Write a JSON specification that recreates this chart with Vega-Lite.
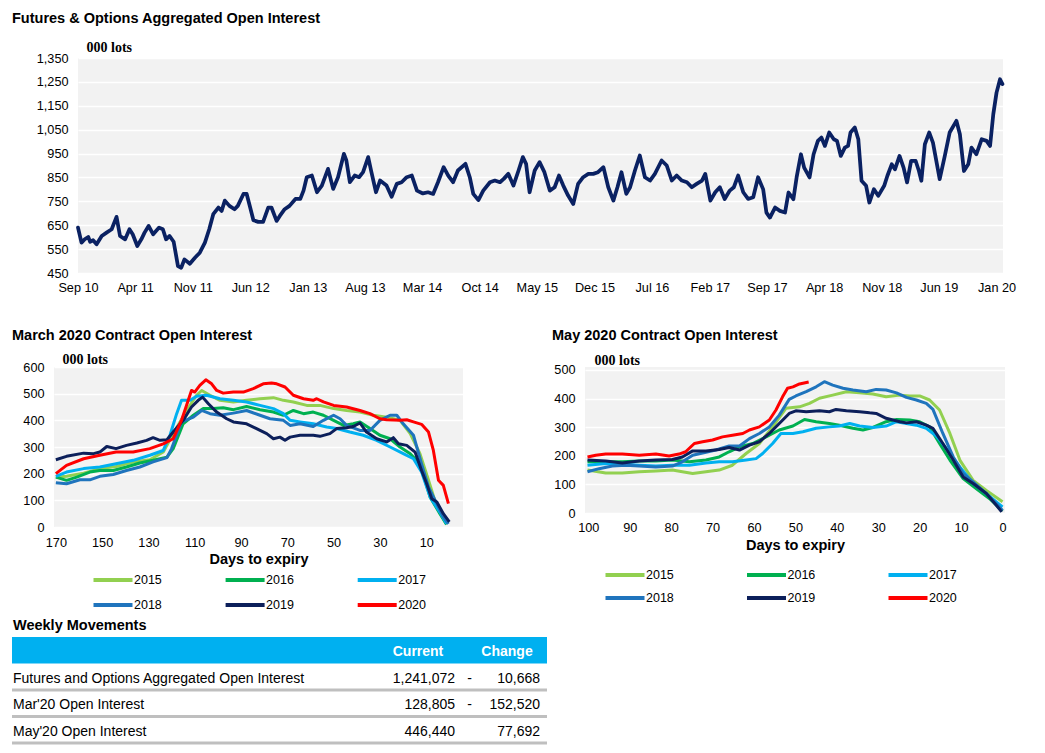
{
  "$schema": "https://vega.github.io/schema/vega-lite/v6.json",
  "background": "white",
  "padding": {"left": 10, "top": 10, "right": 5, "bottom": 2},
  "config": {
    "font": "Liberation Sans",
    "view": {"stroke": null},
    "axis": {"labelFont": "Liberation Sans", "labelFontSize": 12.7, "labelColor": "#000000", "ticks": false, "domain": false, "gridColor": "#ffffff", "gridWidth": 1.5, "gridOpacity": 1, "titleColor": "#000000"},
    "title": {"font": "Liberation Sans", "fontSize": 14.5, "fontWeight": "bold", "anchor": "start", "frame": "group", "color": "#000000", "baseline": "bottom"},
    "legend": {"labelFont": "Liberation Sans", "labelFontSize": 12.5, "labelColor": "#000000", "symbolType": "M-3.9,0H3.9", "symbolSize": 100, "symbolStrokeWidth": 4, "labelOffset": 14, "padding": 0, "direction": "horizontal"}
  },
  "datasets": {
    "top": [
      {"d":"2010/09/01","v":640},{"d":"2010/09/14","v":577},{"d":"2010/09/26","v":591},{"d":"2010/10/09","v":601},{"d":"2010/10/16","v":581},{"d":"2010/10/27","v":587},{"d":"2010/11/09","v":570},{"d":"2010/11/28","v":605},{"d":"2010/12/16","v":619},{"d":"2011/01/04","v":633},{"d":"2011/01/22","v":685},{"d":"2011/02/04","v":605},{"d":"2011/02/23","v":591},{"d":"2011/03/11","v":633},{"d":"2011/03/23","v":612},{"d":"2011/04/09","v":563},{"d":"2011/04/24","v":591},{"d":"2011/05/06","v":619},{"d":"2011/05/21","v":647},{"d":"2011/06/07","v":612},{"d":"2011/06/29","v":640},{"d":"2011/07/13","v":633},{"d":"2011/07/25","v":591},{"d":"2011/08/07","v":605},{"d":"2011/08/22","v":581},{"d":"2011/09/07","v":479},{"d":"2011/09/19","v":472},{"d":"2011/10/01","v":507},{"d":"2011/10/21","v":489},{"d":"2011/11/09","v":514},{"d":"2011/11/27","v":535},{"d":"2011/12/16","v":577},
      {"d":"2012/01/01","v":633},{"d":"2012/01/16","v":696},{"d":"2012/02/04","v":724},{"d":"2012/02/16","v":710},{"d":"2012/02/28","v":753},{"d":"2012/03/16","v":731},{"d":"2012/04/04","v":717},{"d":"2012/04/16","v":731},{"d":"2012/05/07","v":781},{"d":"2012/05/19","v":781},{"d":"2012/06/01","v":724},{"d":"2012/06/13","v":671},{"d":"2012/07/01","v":664},{"d":"2012/07/19","v":664},{"d":"2012/08/07","v":724},{"d":"2012/08/19","v":724},{"d":"2012/09/07","v":668},{"d":"2012/09/19","v":689},{"d":"2012/10/07","v":717},{"d":"2012/10/25","v":731},{"d":"2012/11/16","v":760},{"d":"2012/12/04","v":760},{"d":"2012/12/16","v":795},{"d":"2012/12/28","v":851},
      {"d":"2013/01/16","v":858},{"d":"2013/02/04","v":788},{"d":"2013/02/22","v":816},{"d":"2013/03/17","v":886},{"d":"2013/04/05","v":802},{"d":"2013/04/23","v":851},{"d":"2013/05/15","v":949},{"d":"2013/05/24","v":921},{"d":"2013/06/06","v":830},{"d":"2013/06/24","v":858},{"d":"2013/07/10","v":851},{"d":"2013/07/25","v":872},{"d":"2013/08/13","v":935},{"d":"2013/08/25","v":872},{"d":"2013/09/11","v":788},{"d":"2013/09/26","v":837},{"d":"2013/10/20","v":816},{"d":"2013/11/08","v":769},{"d":"2013/11/27","v":823},{"d":"2013/12/15","v":830},
      {"d":"2014/01/03","v":851},{"d":"2014/01/22","v":858},{"d":"2014/02/10","v":795},{"d":"2014/03/04","v":783},{"d":"2014/03/23","v":788},{"d":"2014/04/11","v":781},{"d":"2014/04/29","v":830},{"d":"2014/05/20","v":893},{"d":"2014/06/06","v":858},{"d":"2014/06/24","v":830},{"d":"2014/07/12","v":879},{"d":"2014/08/09","v":907},{"d":"2014/08/25","v":851},{"d":"2014/09/07","v":781},{"d":"2014/09/26","v":755},{"d":"2014/10/14","v":795},{"d":"2014/11/08","v":830},{"d":"2014/11/26","v":837},{"d":"2014/12/15","v":830},{"d":"2014/12/29","v":844},
      {"d":"2015/01/15","v":865},{"d":"2015/02/03","v":816},{"d":"2015/02/22","v":879},{"d":"2015/03/10","v":935},{"d":"2015/03/22","v":907},{"d":"2015/04/04","v":788},{"d":"2015/04/23","v":879},{"d":"2015/05/11","v":914},{"d":"2015/05/29","v":872},{"d":"2015/06/18","v":795},{"d":"2015/07/06","v":809},{"d":"2015/07/22","v":858},{"d":"2015/08/07","v":816},{"d":"2015/08/25","v":774},{"d":"2015/09/13","v":739},{"d":"2015/10/01","v":823},{"d":"2015/10/20","v":851},{"d":"2015/11/08","v":865},{"d":"2015/11/26","v":865},{"d":"2015/12/14","v":872},
      {"d":"2016/01/03","v":893},{"d":"2016/01/21","v":809},{"d":"2016/02/09","v":753},{"d":"2016/02/24","v":809},{"d":"2016/03/10","v":872},{"d":"2016/03/28","v":781},{"d":"2016/04/11","v":809},{"d":"2016/04/29","v":879},{"d":"2016/05/17","v":942},{"d":"2016/06/05","v":851},{"d":"2016/06/24","v":837},{"d":"2016/07/12","v":865},{"d":"2016/08/06","v":921},{"d":"2016/08/25","v":900},{"d":"2016/09/13","v":837},{"d":"2016/10/01","v":858},{"d":"2016/10/20","v":837},{"d":"2016/11/08","v":830},{"d":"2016/11/26","v":809},{"d":"2016/12/14","v":823},
      {"d":"2017/01/03","v":837},{"d":"2017/01/15","v":865},{"d":"2017/02/03","v":753},{"d":"2017/02/21","v":788},{"d":"2017/03/10","v":809},{"d":"2017/03/28","v":760},{"d":"2017/04/16","v":795},{"d":"2017/05/01","v":809},{"d":"2017/05/17","v":858},{"d":"2017/06/05","v":788},{"d":"2017/06/23","v":760},{"d":"2017/07/12","v":767},{"d":"2017/07/30","v":851},{"d":"2017/08/18","v":800},{"d":"2017/08/30","v":703},{"d":"2017/09/12","v":682},{"d":"2017/10/01","v":724},{"d":"2017/10/19","v":710},{"d":"2017/11/07","v":703},{"d":"2017/11/20","v":787},{"d":"2017/12/08","v":759},{"d":"2017/12/20","v":850},
      {"d":"2018/01/05","v":947},{"d":"2018/01/17","v":891},{"d":"2018/02/06","v":850},{"d":"2018/02/21","v":947},{"d":"2018/03/09","v":1003},{"d":"2018/03/22","v":1017},{"d":"2018/04/04","v":982},{"d":"2018/04/20","v":1038},{"d":"2018/05/07","v":1010},{"d":"2018/05/19","v":1003},{"d":"2018/06/02","v":940},{"d":"2018/06/17","v":975},{"d":"2018/06/29","v":982},{"d":"2018/07/08","v":1038},{"d":"2018/07/24","v":1059},{"d":"2018/08/06","v":1010},{"d":"2018/08/18","v":836},{"d":"2018/09/04","v":815},{"d":"2018/09/16","v":745},{"d":"2018/10/03","v":801},{"d":"2018/10/19","v":773},{"d":"2018/11/10","v":815},{"d":"2018/11/22","v":857},{"d":"2018/12/08","v":905},{"d":"2018/12/20","v":884},
      {"d":"2019/01/06","v":940},{"d":"2019/01/21","v":891},{"d":"2019/02/03","v":829},{"d":"2019/02/18","v":919},{"d":"2019/03/07","v":919},{"d":"2019/03/19","v":877},{"d":"2019/03/28","v":836},{"d":"2019/04/10","v":989},{"d":"2019/04/26","v":1038},{"d":"2019/05/10","v":996},{"d":"2019/06/04","v":843},{"d":"2019/06/23","v":940},{"d":"2019/07/11","v":1038},{"d":"2019/08/05","v":1087},{"d":"2019/08/18","v":1031},{"d":"2019/09/02","v":877},{"d":"2019/09/18","v":905},{"d":"2019/09/30","v":975},{"d":"2019/10/18","v":947},{"d":"2019/11/07","v":1010},{"d":"2019/11/25","v":1003},{"d":"2019/12/08","v":982},{"d":"2019/12/20","v":1115},
      {"d":"2020/01/01","v":1205},{"d":"2020/01/14","v":1261},{"d":"2020/01/23","v":1241}
    ],
    "mar": [
      {"y":"2015","d":170,"v":187},{"y":"2015","d":165.4,"v":190},{"y":"2015","d":158,"v":202},{"y":"2015","d":151,"v":219},{"y":"2015","d":144,"v":227},{"y":"2015","d":136.6,"v":244},{"y":"2015","d":129.4,"v":252},{"y":"2015","d":123.6,"v":281},{"y":"2015","d":119.3,"v":350},{"y":"2015","d":113.5,"v":437},{"y":"2015","d":109.2,"v":494},{"y":"2015","d":107,"v":512},{"y":"2015","d":103.4,"v":494},{"y":"2015","d":99.1,"v":475},{"y":"2015","d":93.3,"v":469},{"y":"2015","d":87.6,"v":475},{"y":"2015","d":81.8,"v":481},{"y":"2015","d":76,"v":485},{"y":"2015","d":71.7,"v":475},{"y":"2015","d":67.4,"v":469},{"y":"2015","d":61.6,"v":456},{"y":"2015","d":55.9,"v":456},{"y":"2015","d":50,"v":444},{"y":"2015","d":44.4,"v":437},{"y":"2015","d":38.6,"v":431},{"y":"2015","d":32.8,"v":419},{"y":"2015","d":27.1,"v":412},{"y":"2015","d":21.3,"v":400},{"y":"2015","d":16.9,"v":350},{"y":"2015","d":12.7,"v":275},{"y":"2015","d":9,"v":175},{"y":"2015","d":5.4,"v":75},{"y":"2015","d":1.2,"v":10},
      {"y":"2016","d":170,"v":187},{"y":"2016","d":165.4,"v":175},{"y":"2016","d":161,"v":187},{"y":"2016","d":155.3,"v":206},{"y":"2016","d":151,"v":212},{"y":"2016","d":145.2,"v":212},{"y":"2016","d":139.5,"v":225},{"y":"2016","d":133.7,"v":240},{"y":"2016","d":128,"v":250},{"y":"2016","d":122,"v":262},{"y":"2016","d":119.3,"v":294},{"y":"2016","d":115,"v":387},{"y":"2016","d":110.6,"v":419},{"y":"2016","d":106.3,"v":444},{"y":"2016","d":102,"v":444},{"y":"2016","d":97.7,"v":447},{"y":"2016","d":93.3,"v":440},{"y":"2016","d":87.6,"v":452},{"y":"2016","d":81.8,"v":440},{"y":"2016","d":76,"v":431},{"y":"2016","d":71.7,"v":419},{"y":"2016","d":67.4,"v":437},{"y":"2016","d":63,"v":425},{"y":"2016","d":58.8,"v":431},{"y":"2016","d":54.4,"v":419},{"y":"2016","d":50,"v":400},{"y":"2016","d":45.7,"v":381},{"y":"2016","d":41.5,"v":387},{"y":"2016","d":38.6,"v":394},{"y":"2016","d":34.3,"v":369},{"y":"2016","d":30,"v":344},{"y":"2016","d":25.6,"v":331},{"y":"2016","d":21.3,"v":300},{"y":"2016","d":16.9,"v":275},{"y":"2016","d":12.7,"v":237},{"y":"2016","d":8.3,"v":112},{"y":"2016","d":4.1,"v":50},{"y":"2016","d":1.2,"v":10},
      {"y":"2017","d":170,"v":190},{"y":"2017","d":165.4,"v":206},{"y":"2017","d":158,"v":219},{"y":"2017","d":151,"v":225},{"y":"2017","d":144,"v":237},{"y":"2017","d":136.6,"v":250},{"y":"2017","d":129.4,"v":269},{"y":"2017","d":123.6,"v":287},{"y":"2017","d":120.7,"v":344},{"y":"2017","d":117.8,"v":425},{"y":"2017","d":115.7,"v":475},{"y":"2017","d":112,"v":475},{"y":"2017","d":109.2,"v":490},{"y":"2017","d":104.9,"v":494},{"y":"2017","d":99.1,"v":481},{"y":"2017","d":93.3,"v":475},{"y":"2017","d":87.6,"v":469},{"y":"2017","d":81.8,"v":456},{"y":"2017","d":76,"v":444},{"y":"2017","d":71.7,"v":425},{"y":"2017","d":68.8,"v":400},{"y":"2017","d":64.5,"v":394},{"y":"2017","d":58.8,"v":387},{"y":"2017","d":53,"v":375},{"y":"2017","d":48.7,"v":369},{"y":"2017","d":43,"v":356},{"y":"2017","d":37.2,"v":344},{"y":"2017","d":31.4,"v":325},{"y":"2017","d":25.6,"v":300},{"y":"2017","d":19.9,"v":275},{"y":"2017","d":15.5,"v":256},{"y":"2017","d":12,"v":206},{"y":"2017","d":8.3,"v":112},{"y":"2017","d":4.1,"v":56},{"y":"2017","d":1.2,"v":12},
      {"y":"2018","d":170,"v":166},{"y":"2018","d":165.4,"v":162},{"y":"2018","d":159.6,"v":177},{"y":"2018","d":155.3,"v":177},{"y":"2018","d":151,"v":190},{"y":"2018","d":145.2,"v":197},{"y":"2018","d":139.5,"v":212},{"y":"2018","d":133.7,"v":225},{"y":"2018","d":128,"v":244},{"y":"2018","d":122,"v":260},{"y":"2018","d":120,"v":294},{"y":"2018","d":115.7,"v":394},{"y":"2018","d":110.6,"v":412},{"y":"2018","d":107,"v":437},{"y":"2018","d":103.4,"v":425},{"y":"2018","d":99.1,"v":419},{"y":"2018","d":93.3,"v":427},{"y":"2018","d":87.6,"v":437},{"y":"2018","d":81.8,"v":419},{"y":"2018","d":77.5,"v":406},{"y":"2018","d":71.7,"v":400},{"y":"2018","d":68.8,"v":381},{"y":"2018","d":64.5,"v":387},{"y":"2018","d":58.8,"v":377},{"y":"2018","d":54.4,"v":400},{"y":"2018","d":50,"v":419},{"y":"2018","d":47.2,"v":406},{"y":"2018","d":44.4,"v":381},{"y":"2018","d":38.6,"v":362},{"y":"2018","d":34.3,"v":362},{"y":"2018","d":30,"v":400},{"y":"2018","d":25.6,"v":419},{"y":"2018","d":22.7,"v":419},{"y":"2018","d":19.9,"v":387},{"y":"2018","d":15.5,"v":344},{"y":"2018","d":12,"v":237},{"y":"2018","d":9,"v":150},{"y":"2018","d":5.4,"v":87},{"y":"2018","d":2.6,"v":37},{"y":"2018","d":0.4,"v":12},
      {"y":"2019","d":170,"v":252},{"y":"2019","d":165.4,"v":265},{"y":"2019","d":158,"v":277},{"y":"2019","d":153.7,"v":275},{"y":"2019","d":151,"v":281},{"y":"2019","d":148,"v":302},{"y":"2019","d":144,"v":294},{"y":"2019","d":139.5,"v":306},{"y":"2019","d":135,"v":315},{"y":"2019","d":130.8,"v":325},{"y":"2019","d":128,"v":335},{"y":"2019","d":125,"v":325},{"y":"2019","d":122,"v":327},{"y":"2019","d":119.3,"v":356},{"y":"2019","d":115,"v":400},{"y":"2019","d":111.4,"v":450},{"y":"2019","d":108.5,"v":475},{"y":"2019","d":106.6,"v":487},{"y":"2019","d":104.1,"v":462},{"y":"2019","d":100.5,"v":431},{"y":"2019","d":96.2,"v":406},{"y":"2019","d":93.3,"v":394},{"y":"2019","d":87.6,"v":387},{"y":"2019","d":83.3,"v":369},{"y":"2019","d":78.9,"v":350},{"y":"2019","d":76,"v":331},{"y":"2019","d":73.2,"v":337},{"y":"2019","d":71,"v":325},{"y":"2019","d":68.8,"v":337},{"y":"2019","d":64.5,"v":344},{"y":"2019","d":58.8,"v":344},{"y":"2019","d":55.9,"v":340},{"y":"2019","d":51.6,"v":350},{"y":"2019","d":48.7,"v":369},{"y":"2019","d":44.4,"v":372},{"y":"2019","d":41.5,"v":377},{"y":"2019","d":38.6,"v":390},{"y":"2019","d":35.8,"v":356},{"y":"2019","d":31.4,"v":331},{"y":"2019","d":27.1,"v":319},{"y":"2019","d":24.2,"v":335},{"y":"2019","d":22,"v":312},{"y":"2019","d":18.4,"v":306},{"y":"2019","d":14.8,"v":281},{"y":"2019","d":12,"v":212},{"y":"2019","d":9.8,"v":162},{"y":"2019","d":7.6,"v":106},{"y":"2019","d":5.4,"v":94},{"y":"2019","d":2.6,"v":50},{"y":"2019","d":0,"v":19},
      {"y":"2020","d":170,"v":200},{"y":"2020","d":165.4,"v":231},{"y":"2020","d":158,"v":256},{"y":"2020","d":151,"v":269},{"y":"2020","d":144,"v":281},{"y":"2020","d":136.6,"v":281},{"y":"2020","d":129.4,"v":294},{"y":"2020","d":123.6,"v":312},{"y":"2020","d":119.3,"v":331},{"y":"2020","d":115.7,"v":400},{"y":"2020","d":112.8,"v":475},{"y":"2020","d":111.4,"v":512},{"y":"2020","d":110,"v":506},{"y":"2020","d":107.8,"v":531},{"y":"2020","d":105.2,"v":552},{"y":"2020","d":102.7,"v":537},{"y":"2020","d":100.5,"v":512},{"y":"2020","d":97.7,"v":502},{"y":"2020","d":93.3,"v":506},{"y":"2020","d":89,"v":506},{"y":"2020","d":84.7,"v":519},{"y":"2020","d":80.4,"v":537},{"y":"2020","d":76.8,"v":540},{"y":"2020","d":74.6,"v":537},{"y":"2020","d":71,"v":525},{"y":"2020","d":67.4,"v":494},{"y":"2020","d":63,"v":481},{"y":"2020","d":58.8,"v":475},{"y":"2020","d":57.3,"v":481},{"y":"2020","d":54.4,"v":469},{"y":"2020","d":50,"v":456},{"y":"2020","d":44.4,"v":450},{"y":"2020","d":38.6,"v":437},{"y":"2020","d":34.3,"v":425},{"y":"2020","d":30,"v":406},{"y":"2020","d":27.1,"v":402},{"y":"2020","d":21.3,"v":400},{"y":"2020","d":18.4,"v":402},{"y":"2020","d":15.5,"v":394},{"y":"2020","d":12,"v":385},{"y":"2020","d":9,"v":356},{"y":"2020","d":6.9,"v":287},{"y":"2020","d":4.7,"v":175},{"y":"2020","d":2.6,"v":156},{"y":"2020","d":0.4,"v":88}
    ],
    "may": [
      {"y":"2015","d":100.2,"v":150},{"y":"2015","d":95.8,"v":140},{"y":"2015","d":91.8,"v":140},{"y":"2015","d":87.7,"v":144},{"y":"2015","d":83.7,"v":147},{"y":"2015","d":79.7,"v":150},{"y":"2015","d":77.3,"v":144},{"y":"2015","d":74.8,"v":138},{"y":"2015","d":71.6,"v":144},{"y":"2015","d":68.4,"v":150},{"y":"2015","d":65.2,"v":167},{"y":"2015","d":61.9,"v":208},{"y":"2015","d":58.7,"v":243},{"y":"2015","d":55.5,"v":301},{"y":"2015","d":52.3,"v":366},{"y":"2015","d":49,"v":371},{"y":"2015","d":46.6,"v":383},{"y":"2015","d":44.2,"v":401},{"y":"2015","d":41,"v":412},{"y":"2015","d":37.7,"v":424},{"y":"2015","d":34.5,"v":420},{"y":"2015","d":31.3,"v":416},{"y":"2015","d":28.1,"v":406},{"y":"2015","d":24.8,"v":412},{"y":"2015","d":22.4,"v":409},{"y":"2015","d":20,"v":409},{"y":"2015","d":17.6,"v":395},{"y":"2015","d":15.2,"v":360},{"y":"2015","d":12.7,"v":278},{"y":"2015","d":10.3,"v":185},{"y":"2015","d":7.1,"v":114},{"y":"2015","d":3.9,"v":79},{"y":"2015","d":0,"v":39},
      {"y":"2016","d":100.2,"v":179},{"y":"2016","d":95.8,"v":179},{"y":"2016","d":91.8,"v":179},{"y":"2016","d":87.7,"v":182},{"y":"2016","d":83.7,"v":182},{"y":"2016","d":79.7,"v":185},{"y":"2016","d":75.6,"v":179},{"y":"2016","d":71.6,"v":185},{"y":"2016","d":68.4,"v":196},{"y":"2016","d":66,"v":214},{"y":"2016","d":63.5,"v":231},{"y":"2016","d":60.3,"v":243},{"y":"2016","d":57.1,"v":266},{"y":"2016","d":53.9,"v":290},{"y":"2016","d":50.6,"v":304},{"y":"2016","d":47.8,"v":327},{"y":"2016","d":45,"v":319},{"y":"2016","d":41.8,"v":313},{"y":"2016","d":39.4,"v":307},{"y":"2016","d":36.1,"v":296},{"y":"2016","d":33.7,"v":290},{"y":"2016","d":31.3,"v":299},{"y":"2016","d":28.1,"v":319},{"y":"2016","d":25.6,"v":327},{"y":"2016","d":22.4,"v":325},{"y":"2016","d":20,"v":319},{"y":"2016","d":17.6,"v":301},{"y":"2016","d":15.2,"v":243},{"y":"2016","d":12.7,"v":185},{"y":"2016","d":9.5,"v":120},{"y":"2016","d":6.3,"v":85},{"y":"2016","d":3.1,"v":50},{"y":"2016","d":0,"v":7},
      {"y":"2017","d":100.2,"v":167},{"y":"2017","d":95.8,"v":173},{"y":"2017","d":91.8,"v":171},{"y":"2017","d":87.7,"v":167},{"y":"2017","d":83.7,"v":164},{"y":"2017","d":79.7,"v":167},{"y":"2017","d":75.6,"v":167},{"y":"2017","d":71.6,"v":175},{"y":"2017","d":68.4,"v":179},{"y":"2017","d":65.2,"v":179},{"y":"2017","d":61.9,"v":185},{"y":"2017","d":59.5,"v":190},{"y":"2017","d":57.9,"v":208},{"y":"2017","d":55.5,"v":243},{"y":"2017","d":53.5,"v":278},{"y":"2017","d":50.6,"v":278},{"y":"2017","d":48.2,"v":284},{"y":"2017","d":45,"v":296},{"y":"2017","d":41.8,"v":301},{"y":"2017","d":39.4,"v":304},{"y":"2017","d":36.9,"v":313},{"y":"2017","d":34.5,"v":304},{"y":"2017","d":31.3,"v":299},{"y":"2017","d":28.1,"v":304},{"y":"2017","d":25.6,"v":319},{"y":"2017","d":23.2,"v":313},{"y":"2017","d":20.8,"v":307},{"y":"2017","d":18.4,"v":296},{"y":"2017","d":16,"v":269},{"y":"2017","d":13.5,"v":225},{"y":"2017","d":10.3,"v":161},{"y":"2017","d":7.1,"v":103},{"y":"2017","d":3.9,"v":68},{"y":"2017","d":1.5,"v":39},{"y":"2017","d":0,"v":21},
      {"y":"2018","d":100.2,"v":144},{"y":"2018","d":97.4,"v":155},{"y":"2018","d":94.2,"v":164},{"y":"2018","d":91,"v":167},{"y":"2018","d":87.7,"v":164},{"y":"2018","d":83.7,"v":161},{"y":"2018","d":79.7,"v":164},{"y":"2018","d":77.3,"v":179},{"y":"2018","d":74.8,"v":202},{"y":"2018","d":72.4,"v":210},{"y":"2018","d":69.2,"v":220},{"y":"2018","d":66,"v":234},{"y":"2018","d":63.5,"v":234},{"y":"2018","d":61.1,"v":260},{"y":"2018","d":58.7,"v":278},{"y":"2018","d":56.3,"v":301},{"y":"2018","d":53.9,"v":342},{"y":"2018","d":51.5,"v":397},{"y":"2018","d":49.9,"v":409},{"y":"2018","d":47.4,"v":424},{"y":"2018","d":45,"v":441},{"y":"2018","d":43,"v":459},{"y":"2018","d":41,"v":447},{"y":"2018","d":38.5,"v":436},{"y":"2018","d":36.1,"v":430},{"y":"2018","d":32.9,"v":424},{"y":"2018","d":30.5,"v":432},{"y":"2018","d":28.1,"v":430},{"y":"2018","d":25.6,"v":420},{"y":"2018","d":23.2,"v":404},{"y":"2018","d":20.8,"v":395},{"y":"2018","d":18.4,"v":383},{"y":"2018","d":16.8,"v":362},{"y":"2018","d":14.4,"v":278},{"y":"2018","d":11.9,"v":196},{"y":"2018","d":9.5,"v":138},{"y":"2018","d":7.1,"v":109},{"y":"2018","d":3.9,"v":68},{"y":"2018","d":1.5,"v":33},{"y":"2018","d":0,"v":9},
      {"y":"2019","d":100.2,"v":185},{"y":"2019","d":95.8,"v":182},{"y":"2019","d":91.8,"v":175},{"y":"2019","d":87.7,"v":182},{"y":"2019","d":83.7,"v":185},{"y":"2019","d":79.7,"v":187},{"y":"2019","d":77.3,"v":196},{"y":"2019","d":74.8,"v":217},{"y":"2019","d":71.6,"v":217},{"y":"2019","d":68.4,"v":222},{"y":"2019","d":66,"v":229},{"y":"2019","d":63.5,"v":220},{"y":"2019","d":61.1,"v":237},{"y":"2019","d":58.7,"v":249},{"y":"2019","d":56.3,"v":278},{"y":"2019","d":53.9,"v":313},{"y":"2019","d":51.5,"v":348},{"y":"2019","d":49.9,"v":357},{"y":"2019","d":47.4,"v":354},{"y":"2019","d":44.2,"v":357},{"y":"2019","d":41.8,"v":354},{"y":"2019","d":40.2,"v":362},{"y":"2019","d":37.7,"v":357},{"y":"2019","d":34.5,"v":354},{"y":"2019","d":32.1,"v":350},{"y":"2019","d":30.5,"v":348},{"y":"2019","d":28.1,"v":331},{"y":"2019","d":24.8,"v":319},{"y":"2019","d":23.2,"v":315},{"y":"2019","d":20.8,"v":319},{"y":"2019","d":18.4,"v":307},{"y":"2019","d":16.8,"v":296},{"y":"2019","d":14.4,"v":243},{"y":"2019","d":11.9,"v":185},{"y":"2019","d":9.5,"v":126},{"y":"2019","d":7.1,"v":103},{"y":"2019","d":3.9,"v":68},{"y":"2019","d":1.5,"v":27},{"y":"2019","d":0.2,"v":4},
      {"y":"2020","d":100.2,"v":196},{"y":"2020","d":98.2,"v":202},{"y":"2020","d":95.8,"v":206},{"y":"2020","d":91.8,"v":206},{"y":"2020","d":87.7,"v":202},{"y":"2020","d":83.7,"v":206},{"y":"2020","d":80.5,"v":199},{"y":"2020","d":78.1,"v":206},{"y":"2020","d":76.5,"v":214},{"y":"2020","d":74.4,"v":243},{"y":"2020","d":72.4,"v":249},{"y":"2020","d":70,"v":255},{"y":"2020","d":67.6,"v":266},{"y":"2020","d":65.2,"v":272},{"y":"2020","d":62.7,"v":278},{"y":"2020","d":61.1,"v":290},{"y":"2020","d":58.7,"v":301},{"y":"2020","d":56.3,"v":325},{"y":"2020","d":54.7,"v":360},{"y":"2020","d":53.1,"v":406},{"y":"2020","d":51.9,"v":436},{"y":"2020","d":50.6,"v":441},{"y":"2020","d":49,"v":451},{"y":"2020","d":46.8,"v":458}
    ],
    "tbl": [
      {"row":"h","c":1,"t":"Current"},
      {"row":"h","c":4,"t":"Change"},
      {"row":"1","c":0,"t":"Futures and Options Aggregated Open Interest"},
      {"row":"1","c":2,"t":"1,241,072"},
      {"row":"1","c":3,"t":"-"},
      {"row":"1","c":5,"t":"10,668"},
      {"row":"2","c":0,"t":"Mar'20 Open Interest"},
      {"row":"2","c":2,"t":"128,805"},
      {"row":"2","c":3,"t":"-"},
      {"row":"2","c":5,"t":"152,520"},
      {"row":"3","c":0,"t":"May'20 Open Interest"},
      {"row":"3","c":2,"t":"446,440"},
      {"row":"3","c":5,"t":"77,692"}
    ]
  },
  "concat": [
    {
      "concat": [
        {
          "concat": [
            {"width": 66, "height": 1, "data": {"values": []}, "mark": "point", "encoding": {}},
            {
              "width": 925,
              "height": 215,
              "title": {"text": "Futures & Options Aggregated Open Interest", "dx": -66, "offset": 14},
              "view": {"fill": "#f2f2f2", "stroke": null},
              "data": {"name": "top"},
              "mark": {"type": "line", "color": "#0a2162", "strokeWidth": 3.75, "strokeJoin": "round", "strokeCap": "round"},
              "encoding": {
                "x": {
                  "field": "d", "type": "temporal",
                  "scale": {"domain": [{"year": 2010, "month": 9, "date": 1}, {"year": 2020, "month": 1, "date": 25}]},
                  "axis": {
                    "title": null, "grid": false, "format": "%b %y", "labelPadding": 8, "labelFlush": false, "labelOverlap": false,
                    "values": [
                      {"year": 2010, "month": 9, "date": 1}, {"year": 2011, "month": 4, "date": 1}, {"year": 2011, "month": 11, "date": 1},
                      {"year": 2012, "month": 6, "date": 1}, {"year": 2013, "month": 1, "date": 1}, {"year": 2013, "month": 8, "date": 1},
                      {"year": 2014, "month": 3, "date": 1}, {"year": 2014, "month": 10, "date": 1}, {"year": 2015, "month": 5, "date": 1},
                      {"year": 2015, "month": 12, "date": 1}, {"year": 2016, "month": 7, "date": 1}, {"year": 2017, "month": 2, "date": 1},
                      {"year": 2017, "month": 9, "date": 1}, {"year": 2018, "month": 4, "date": 1}, {"year": 2018, "month": 11, "date": 1},
                      {"year": 2019, "month": 6, "date": 1}, {"year": 2020, "month": 1, "date": 1}
                    ]
                  }
                },
                "y": {
                  "field": "v", "type": "quantitative",
                  "scale": {"domain": [450, 1350], "nice": false, "zero": false},
                  "axis": {
                    "values": [450, 550, 650, 750, 850, 950, 1050, 1150, 1250, 1350], "format": ",.0f", "labelPadding": 10, "grid": true,
                    "title": "000 lots", "titleAngle": 0, "titleAlign": "left", "titleBaseline": "alphabetic", "titleX": 8, "titleY": -7,
                    "titleFont": "Liberation Serif", "titleFontSize": 14, "titleFontWeight": "bold"
                  }
                }
              }
            }
          ],
          "spacing": 0,
          "bounds": "flush"
        },
        {
          "concat": [
            {"width": 42, "height": 1, "data": {"values": []}, "mark": "point", "encoding": {}},
            {
              "concat": [
                {
                  "width": 409,
                  "height": 160,
                  "title": {"text": "March 2020 Contract Open Interest", "dx": -42, "offset": 9},
                  "view": {"fill": "#f2f2f2", "stroke": null},
                  "data": {"name": "mar"},
                  "mark": {"type": "line", "strokeWidth": 3, "strokeJoin": "round"},
                  "encoding": {
                    "x": {
                      "field": "d", "type": "quantitative",
                      "scale": {"domain": [170.8, -5.9], "nice": false, "zero": false},
                      "axis": {"values": [170, 150, 130, 110, 90, 70, 50, 30, 10], "grid": false, "labelPadding": 9, "labelFlush": false,
                        "title": "Days to expiry", "titleFontSize": 14.5, "titleFontWeight": "bold", "titlePadding": 4}
                    },
                    "y": {
                      "field": "v", "type": "quantitative",
                      "scale": {"domain": [0, 600], "nice": false},
                      "axis": {"values": [0, 100, 200, 300, 400, 500, 600], "labelPadding": 10, "grid": true,
                        "title": "000 lots", "titleAngle": 0, "titleAlign": "left", "titleBaseline": "alphabetic", "titleX": 8, "titleY": -4,
                        "titleFont": "Liberation Serif", "titleFontSize": 14, "titleFontWeight": "bold"}
                    },
                    "color": {
                      "field": "y", "type": "nominal",
                      "scale": {"domain": ["2015", "2016", "2017", "2018", "2019", "2020"], "range": ["#92d050", "#00b050", "#00b0f0", "#1f74bd", "#0c1f5a", "#ff0000"]},
                      "legend": {"title": null, "orient": "none", "legendX": 52, "legendY": 206, "columns": 3, "columnPadding": 55.1, "rowPadding": 9}
                    }
                  }
                },
                {
                  "width": 420,
                  "height": 146,
                  "title": {"text": "May 2020 Contract Open Interest", "dx": -33, "offset": 10},
                  "view": {"fill": "#f2f2f2", "stroke": null},
                  "data": {"name": "may"},
                  "mark": {"type": "line", "strokeWidth": 3, "strokeJoin": "round"},
                  "encoding": {
                    "x": {
                      "field": "d", "type": "quantitative",
                      "scale": {"domain": [100.8, -0.6], "nice": false, "zero": false},
                      "axis": {"values": [100, 90, 80, 70, 60, 50, 40, 30, 20, 10, 0], "grid": false, "labelPadding": 8.5, "labelFlush": false,
                        "title": "Days to expiry", "titleFontSize": 14.5, "titleFontWeight": "bold", "titlePadding": 4}
                    },
                    "y": {
                      "field": "v", "type": "quantitative",
                      "scale": {"domain": [0, 510.3], "nice": false},
                      "axis": {"values": [0, 100, 200, 300, 400, 500], "labelPadding": 10, "grid": true,
                        "title": "000 lots", "titleAngle": 0, "titleAlign": "left", "titleBaseline": "alphabetic", "titleX": 9, "titleY": -3,
                        "titleFont": "Liberation Serif", "titleFontSize": 14, "titleFontWeight": "bold"}
                    },
                    "color": {
                      "field": "y", "type": "nominal",
                      "scale": {"domain": ["2015", "2016", "2017", "2018", "2019", "2020"], "range": ["#92d050", "#00b050", "#00b0f0", "#1f74bd", "#0c1f5a", "#ff0000"]},
                      "legend": {"title": null, "orient": "none", "legendX": 33, "legendY": 201, "columns": 3, "columnPadding": 64.5, "rowPadding": 7}
                    }
                  }
                }
              ],
              "spacing": 122,
              "bounds": "flush",
              "resolve": {"scale": {"color": "independent"}, "legend": {"color": "independent"}}
            }
          ],
          "spacing": 0,
          "bounds": "flush"
        }
      ],
      "columns": 1,
      "spacing": 33,
      "bounds": "full"
    },
    {
      "width": 535,
      "height": 106,
      "title": {"text": "Weekly Movements", "dx": 1, "offset": 4},
      "data": {"name": "tbl"},
      "encoding": {
        "y": {"field": "row", "type": "ordinal", "scale": {"domain": ["h", "1", "2", "3"], "paddingInner": 0, "paddingOuter": 0}, "axis": null}
      },
      "layer": [
        {"transform": [{"filter": "datum.c === 1"}], "mark": {"type": "rect", "color": "#00b0f0"}},
        {"transform": [{"filter": "datum.c === 0"}], "mark": {"type": "rule", "color": "#bfbfbf", "strokeWidth": 3},
          "encoding": {"y": {"field": "row", "type": "ordinal", "bandPosition": 1}}},
        {"transform": [{"filter": "datum.c === 0"}], "mark": {"type": "text", "align": "left", "baseline": "middle", "fontSize": 14, "dy": 2, "color": "#000000"},
          "encoding": {"x": {"field": "c", "type": "quantitative", "scale": {"domain": [0, 1, 2, 3, 4, 5], "range": [1, 406, 443, 460, 495, 528], "nice": false, "zero": false}, "axis": null}, "text": {"field": "t"}}},
        {"transform": [{"filter": "datum.c === 2 || datum.c === 3 || datum.c === 5"}], "mark": {"type": "text", "align": "right", "baseline": "middle", "fontSize": 14, "dy": 2, "color": "#000000"},
          "encoding": {"x": {"field": "c", "type": "quantitative", "axis": null}, "text": {"field": "t"}}},
        {"transform": [{"filter": "datum.c === 1 || datum.c === 4"}], "mark": {"type": "text", "align": "center", "baseline": "middle", "fontSize": 14, "fontWeight": "bold", "dy": 2, "color": "#ffffff"},
          "encoding": {"x": {"field": "c", "type": "quantitative", "axis": null}, "text": {"field": "t"}}}
      ]
    }
  ],
  "columns": 1,
  "spacing": 4,
  "bounds": "full"
}
